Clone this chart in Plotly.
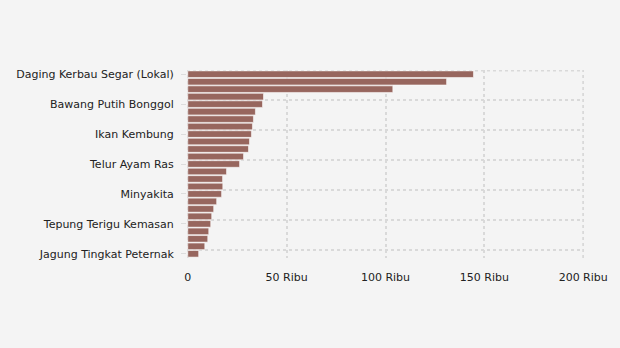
import plotly.graph_objects as go

# Komoditas pangan, diurutkan dari harga tertinggi
komoditas = [
    "Daging Kerbau Segar (Lokal)", "Daging Sapi Murni", "Daging Kerbau Beku (Impor)",
    "Bawang Merah", "Bawang Putih Bonggol", "Cabai Rawit Merah", "Daging Ayam Ras",
    "Cabai Merah Keriting", "Ikan Kembung", "Ikan Tongkol", "Ikan Bandeng",
    "Cabai Merah Besar", "Telur Ayam Ras", "Gula Konsumsi", "Minyak Goreng Kemasan",
    "Minyak Goreng Curah", "Minyakita", "Beras Premium", "Beras Medium",
    "Kedelai Biji Kering (Impor)", "Tepung Terigu Kemasan", "Tepung Terigu Curah",
    "Garam Konsumsi", "Beras SPHP", "Jagung Tingkat Peternak",
]

# Harga (Rp)
harga = [
    144500, 130900, 103700, 38300, 37800, 34200, 33200, 32700, 32200, 31200,
    30700, 28200, 26200, 19600, 17600, 17700, 17100, 14600, 13100, 12100,
    11600, 10600, 10100, 8600, 5500,
]

x_tick_vals = [0, 50000, 100000, 150000, 200000]
x_tick_text = ["0", "50 Ribu", "100 Ribu", "150 Ribu", "200 Ribu"]

posisi = list(range(len(komoditas)))
label_idx = posisi[::4]

GRID = "#d9d9d9"

fig = go.Figure(
    go.Bar(
        x=harga,
        y=posisi,
        orientation="h",
        marker=dict(color="#97665e", line=dict(color="rgba(255,255,255,0.55)", width=1)),
        hovertext=komoditas,
    )
)

# Garis kisi di tepi area plot (tidak digambar otomatis oleh sumbu)
edge_lines = [
    dict(type="line", xref="x", yref="paper", x0=x_tick_vals[0], x1=x_tick_vals[0], y0=0, y1=1),
    dict(type="line", xref="x", yref="paper", x0=x_tick_vals[-1], x1=x_tick_vals[-1], y0=0, y1=1),
    dict(type="line", xref="paper", yref="y", x0=0, x1=1, y0=-0.5, y1=-0.5),
]
for shp in edge_lines:
    shp.update(layer="below", line=dict(color=GRID, width=2, dash="dot"))

fig.update_layout(
    width=620,
    height=348,
    margin=dict(l=187, r=34, t=70, b=90),
    paper_bgcolor="#f4f4f4",
    plot_bgcolor="#f4f4f4",
    bargap=0.12,
    showlegend=False,
    font=dict(family="Verdana, DejaVu Sans, sans-serif", size=11, color="#222222"),
    shapes=edge_lines,
)

fig.update_xaxes(
    range=[-400, 200400],
    tickvals=x_tick_vals,
    ticktext=x_tick_text,
    showgrid=True,
    gridcolor=GRID,
    griddash="dot",
    gridwidth=2,
    zeroline=False,
    showline=False,
    ticks="outside",
    ticklen=9,
    tickcolor="rgba(0,0,0,0)",
    tickfont=dict(size=11, color="#222222"),
)

fig.update_yaxes(
    range=[24.56, -0.56],
    tickvals=label_idx,
    ticktext=[komoditas[i] for i in label_idx],
    showgrid=False,
    zeroline=False,
    showline=False,
    ticks="outside",
    ticklen=5,
    tickcolor="#dddddd",
    tickwidth=1,
    ticklabelstandoff=5,
    tickfont=dict(size=11, color="#222222"),
    minor=dict(
        tick0=-0.5,
        dtick=4,
        showgrid=True,
        gridcolor=GRID,
        griddash="dot",
        gridwidth=2,
        ticks="",
    ),
)

fig.write_html("out.html")
